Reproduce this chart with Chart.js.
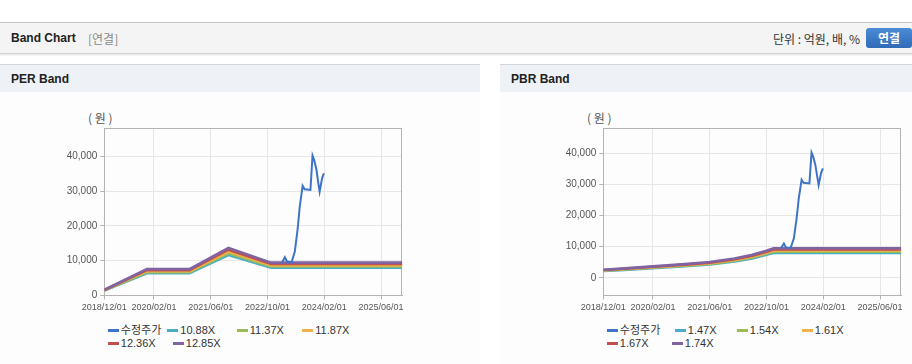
<!DOCTYPE html>
<html>
<head>
<meta charset="utf-8">
<script src="https://cdn.jsdelivr.net/npm/chart.js@4.4.1/dist/chart.umd.min.js"></script>
<style>
body { margin: 0; width: 912px; height: 364px; overflow: hidden; background: #fff; position: relative;
       font-family: "Liberation Sans", Arial, "Noto Sans CJK KR", sans-serif; color: #222; }
.topbar { position: absolute; left: 0; top: 22px; width: 912px; height: 30px; background: #f4f4f4;
          border-top: 1px solid #c4c4c4; border-bottom: 1px solid #d2d2d2; box-shadow: 0 1px 2px rgba(0,0,0,0.12); }
.topbar .title { position: absolute; left: 11px; top: 8px; font-size: 12px; font-weight: bold; }
.topbar .sub { position: absolute; left: 88px; top: 7px; font-size: 12px; color: #8a8a8a; font-family: "Noto Sans CJK KR", sans-serif; }
.topbar .unit { position: absolute; right: 52px; top: 7px; font-size: 12px; color: #333; font-family: "Noto Sans CJK KR", sans-serif; }
.topbar .btn { position: absolute; left: 866px; top: 5px; width: 46px; height: 20px; border-radius: 3px;
               background: linear-gradient(#4c8bd6, #2f6bb7); color: #fff; font-size: 12px; font-weight: bold;
               text-align: center; line-height: 20px; font-family: "Noto Sans CJK KR", sans-serif; }
.panel { position: absolute; top: 64px; height: 300px; background: #fdfdfd; border-top: 1px solid #d6d6d6; }
.phead { height: 27px; background: #eef2f7; font-size: 12px; font-weight: bold; line-height: 28px; padding-left: 11px; }
.box { position: absolute; top: 100px; height: 220px; }
.unitlbl { position: absolute; top: 109px; font-size: 12px; color: #555; font-family: "Noto Sans CJK KR", sans-serif; }
.lg { position: absolute; height: 14px; line-height: 14px; font-size: 11px; color: #333; white-space: nowrap;
      font-family: "Liberation Sans", Arial, "Noto Sans CJK KR", sans-serif; }
.lg i { display: inline-block; width: 11px; height: 3px; vertical-align: middle; margin-right: 2px; margin-top: -2px; }
</style>
</head>
<body>
<div class="topbar">
  <span class="title">Band Chart</span><span class="sub">[연결]</span>
  <span class="unit">단위 : 억원, 배, %</span><span class="btn">연결</span>
</div>
<div class="panel" style="left:0;width:480px"><div class="phead">PER Band</div></div>
<div class="panel" style="left:500px;width:412px"><div class="phead">PBR Band</div></div>
<div class="unitlbl" style="left:88px">( 원 )</div>
<div class="unitlbl" style="left:587px">( 원 )</div>
<div class="box" style="left:0;width:480px"><canvas id="perChart" width="480" height="220"></canvas></div>
<div class="box" style="left:500px;width:412px"><canvas id="pbrChart" width="412" height="220"></canvas></div>

<script>
// x axis
const xStart = '2018/12/01';
const xEnd = '2025/12/01';
const xTickLabels = ['2018/12/01', '2020/02/01', '2021/06/01', '2022/10/01', '2024/02/01', '2025/06/01'];
// y axis
const yTicks = [0, 10000, 20000, 30000, 40000];
const yMax = 48000;

// 수정주가 (adjusted price)
const priceDates = ['2023/02/04', '2023/02/28', '2023/03/16', '2023/04/25', '2023/05/22', '2023/06/15',
                    '2023/07/04', '2023/07/28', '2023/08/15', '2023/10/04', '2023/10/22', '2023/11/06',
                    '2023/11/25', '2023/12/09', '2023/12/22', '2024/01/13', '2024/01/28'];
const priceValues = [9500, 11000, 9750, 9550, 12600, 18800, 25500, 31500, 30500, 30300, 40200, 38900,
                     36100, 32700, 29800, 33700, 35100];

// PER band
const perNames = ['10.88X', '11.37X', '11.87X', '12.36X', '12.85X'];
const perDates = ['2018/12/01', '2019/12/01', '2020/12/01', '2021/11/01', '2022/11/01', '2025/12/01'];
const per1088 = [1400, 6400, 6400, 11600, 8000, 8000];
const per1137 = [1460, 6690, 6690, 12110, 8360, 8360];
const per1187 = [1530, 6980, 6980, 12640, 8720, 8720];
const per1236 = [1590, 7270, 7270, 13160, 9080, 9080];
const per1285 = [1650, 7560, 7560, 13690, 9440, 9440];

// PBR band
const pbrNames = ['1.47X', '1.54X', '1.61X', '1.67X', '1.74X'];
const pbrDates = ['2018/12/01', '2019/06/01', '2020/02/01', '2020/11/01', '2021/06/01', '2022/01/01',
                  '2022/06/01', '2022/10/01', '2022/12/01', '2025/12/01'];
const pbr147 = [2190, 2540, 3090, 3700, 4260, 5230, 6220, 7350, 7990, 7990];
const pbr154 = [2290, 2660, 3230, 3880, 4470, 5480, 6510, 7700, 8370, 8370];
const pbr161 = [2400, 2790, 3380, 4060, 4670, 5730, 6810, 8050, 8750, 8750];
const pbr167 = [2490, 2890, 3510, 4210, 4840, 5950, 7060, 8350, 9080, 9080];
const pbr174 = [2590, 3010, 3650, 4380, 5050, 6190, 7360, 8700, 9460, 9460];

const priceColor = '#3d74c8';
const bandColors = ['#4bacc6', '#9bbb59', '#f0b14a', '#c0504d', '#8064a2'];

// months since 2018/12/01
function monthIndex(s)
{
    const [y, m, d] = s.split('/').map(Number);
    const s0 = xStart.split('/').map(Number);
    return (y - s0[0]) * 12 + (m - s0[1]) + (d - 1) / 30;
}

function toXY(dates, vals)
{
    return dates.map((d, i) => ({ x: monthIndex(d), y: vals[i] }));
}

const frame = {
    id: 'frame',
    beforeDatasetsDraw(chart)
    {
        const a = chart.chartArea, c = chart.ctx;
        c.save();
        c.strokeStyle = '#b4b4b4';
        c.lineWidth = 1;
        c.strokeRect(Math.round(a.left) + 0.5, Math.round(a.top) + 0.5, Math.round(a.width) - 1, Math.round(a.height));
        c.restore();
    }
};

function makeChart(id, bandDates, bandSeries, bandNames, yMin, pad)
{
    const datasets = [{
        label: '수정주가', data: toXY(priceDates, priceValues), order: 0,
        borderColor: priceColor, backgroundColor: priceColor, borderWidth: 2, pointRadius: 0
    }];
    bandSeries.forEach((vals, i) =>
    {
        // higher multiples drawn over lower ones
        datasets.push({
            label: bandNames[i], data: toXY(bandDates, vals), order: bandSeries.length - i,
            borderColor: bandColors[i], backgroundColor: bandColors[i], borderWidth: 2.6, pointRadius: 0
        });
    });

    const tickText = {};
    xTickLabels.forEach(l => { tickText[monthIndex(l).toFixed(3)] = l; });

    return new Chart(document.getElementById(id), {
        type: 'line',
        data: { datasets },
        plugins: [frame],
        options: {
            responsive: false,
            animation: false,
            layout: { padding: pad },
            plugins: { legend: { display: false }, tooltip: { enabled: false } },
            scales: {
                x: {
                    type: 'linear',
                    min: monthIndex(xStart),
                    max: monthIndex(xEnd),
                    afterBuildTicks: s => { s.ticks = xTickLabels.map(l => ({ value: monthIndex(l) })); },
                    afterFit: s => { s.height = 20; },
                    ticks: {
                        autoSkip: false, maxRotation: 0, padding: 3, color: '#555',
                        font: { size: 9, family: '"Liberation Sans", Arial, sans-serif' },
                        callback: v => tickText[Number(v).toFixed(3)] || ''
                    },
                    grid: { color: '#e6e6e6', tickColor: '#b4b4b4', tickLength: 4 },
                    border: { color: '#b4b4b4' }
                },
                y: {
                    min: yMin,
                    max: yMax,
                    afterBuildTicks: s => { s.ticks = yTicks.map(v => ({ value: v })); },
                    afterFit: s => { s.width = 50; },
                    ticks: {
                        autoSkip: false, padding: 3, color: '#555',
                        font: { size: 10, family: '"Liberation Sans", Arial, sans-serif' },
                        callback: v => Number(v).toLocaleString('en-US')
                    },
                    grid: { color: '#e6e6e6', tickColor: '#b4b4b4', tickLength: 4 },
                    border: { color: '#b4b4b4' }
                }
            }
        }
    });
}

function makeLegend(names, plotLeft, slots)
{
    const colors = [priceColor].concat(bandColors);
    ['수정주가'].concat(names).forEach((n, i) =>
    {
        const el = document.createElement('div');
        el.className = 'lg';
        el.style.left = (plotLeft + slots[i][0]) + 'px';
        el.style.top = (slots[i][1] - 7) + 'px';
        el.innerHTML = '<i style="background:' + colors[i] + '"></i>' + n;
        document.body.appendChild(el);
    });
}

makeChart('perChart', perDates, [per1088, per1137, per1187, per1236, per1285], perNames, 0,
          { left: 54.3, right: 77.7, top: 28.3, bottom: 4.5 });
makeChart('pbrChart', pbrDates, [pbr147, pbr154, pbr161, pbr167, pbr174], pbrNames, -5700,
          { left: 53.3, right: 10.7, top: 28.3, bottom: 4.5 });

makeLegend(perNames, 104.3, [[3.5, 330], [63, 330], [132.5, 330], [198, 330], [3.5, 343], [68.5, 343]]);
makeLegend(pbrNames, 603.3, [[3.5, 330], [71.5, 330], [133.5, 330], [198.5, 330], [3.5, 343], [68.5, 343]]);
</script>
</body>
</html>
